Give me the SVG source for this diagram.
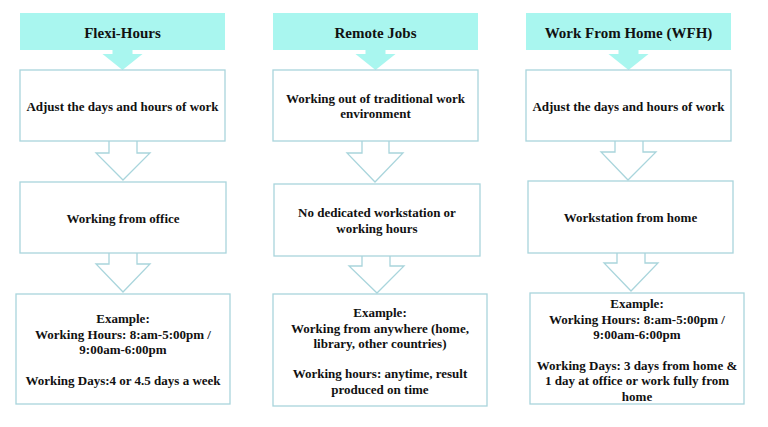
<svg xmlns="http://www.w3.org/2000/svg" width="768" height="427" viewBox="0 0 768 427">
<style>
.hdr{fill:#A9F6EF;stroke:none}
.box{fill:#fff;stroke:#A9D5DC;stroke-width:1.3}
.sarr{fill:#A9F6EF;stroke:none}
.harr{fill:#fff;stroke:#A9D5DC;stroke-width:1.3;stroke-linejoin:miter}
text{font-family:"Liberation Serif","Times New Roman",serif;font-weight:bold;fill:#111;text-anchor:middle}
.h{font-size:15px}
.t{font-size:13px}
</style>
<rect width="768" height="427" fill="#fff"/>
<g id="connectors">
<path class="sarr" d="M112.5,50 V54 H102.5 L122.5,70 L142.5,54 H132.5 V50 Z"/>
<path class="sarr" d="M365.5,50 V54 H355.5 L375.5,70 L395.5,54 H385.5 V50 Z"/>
<path class="sarr" d="M618.5,50 V54 H608.5 L628.5,70 L648.5,54 H638.5 V50 Z"/>
<path class="harr" d="M109,140 V153 H96 L123,180 L150,153 H137 V140"/>
<path class="harr" d="M109,252 V264 H96 L123,292 L150,264 H137 V252"/>
<path class="harr" d="M362,140 V153 H347 L375,182 L403,153 H389 V140"/>
<path class="harr" d="M362,255 V266 H349 L377,293 L404,266 H390 V255"/>
<path class="harr" d="M615,140 V152 H601 L628,180 L656,152 H643 V140"/>
<path class="harr" d="M617,252 V263 H604 L631,291 L658,263 H645 V252"/>
</g>
<g id="flexi-header"><rect class="hdr" x="20" y="13" width="205" height="37"/><text class="h" x="122.5" y="38">Flexi-Hours</text></g>
<g id="remote-header"><rect class="hdr" x="273" y="13" width="205" height="37"/><text class="h" x="375.5" y="38">Remote Jobs</text></g>
<g id="wfh-header"><rect class="hdr" x="526" y="13" width="205" height="37"/><text class="h" x="628.5" y="38">Work From Home (WFH)</text></g>

<g id="flexi-1"><rect class="box" x="20" y="70" width="205" height="71"/><text class="t" x="122.5" y="111">Adjust the days and hours of work</text></g>
<g id="remote-1"><rect class="box" x="273" y="70" width="205" height="71"/><text class="t" x="375.5" y="103">Working out of traditional work</text><text class="t" x="375.5" y="118">environment</text></g>
<g id="wfh-1"><rect class="box" x="526" y="70" width="205" height="71"/><text class="t" x="628.5" y="111">Adjust the days and hours of work</text></g>

<g id="flexi-2"><rect class="box" x="20" y="182" width="206" height="71"/><text class="t" x="123" y="223">Working from office</text></g>
<g id="remote-2"><rect class="box" x="274" y="184" width="206" height="72"/><text class="t" x="377" y="217">No dedicated workstation or</text><text class="t" x="377" y="233">working hours</text></g>
<g id="wfh-2"><rect class="box" x="528" y="181" width="205" height="72"/><text class="t" x="630.5" y="222">Workstation from home</text></g>

<g id="flexi-3"><rect class="box" x="16" y="294" width="214" height="110"/>
<text class="t" x="123" y="323">Example:</text>
<text class="t" x="123" y="338.5">Working Hours: 8:am-5:00pm /</text>
<text class="t" x="123" y="354">9:00am-6:00pm</text>
<text class="t" x="123" y="384.5">Working Days:4 or 4.5 days a week</text></g>
<g id="remote-3"><rect class="box" x="273" y="294" width="214" height="112"/>
<text class="t" x="380" y="317">Example:</text>
<text class="t" x="380" y="332.5">Working from anywhere (home,</text>
<text class="t" x="380" y="348">library, other countries)</text>
<text class="t" x="380" y="378">Working hours: anytime, result</text>
<text class="t" x="380" y="393.5">produced on time</text></g>
<g id="wfh-3"><rect class="box" x="530" y="293" width="214" height="111"/>
<text class="t" x="637" y="308">Example:</text>
<text class="t" x="637" y="323.5">Working Hours: 8:am-5:00pm /</text>
<text class="t" x="637" y="339">9:00am-6:00pm</text>
<text class="t" x="637" y="369.5">Working Days: 3 days from home &amp;</text>
<text class="t" x="637" y="385">1 day at office or work fully from</text>
<text class="t" x="637" y="400.5">home</text></g>
</svg>
